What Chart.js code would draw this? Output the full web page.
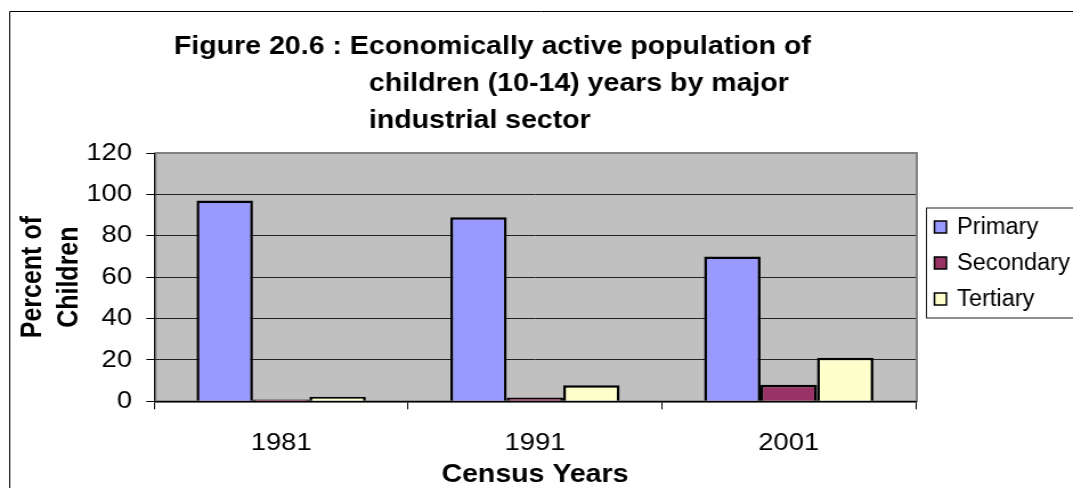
<!DOCTYPE html>
<html>
<head>
<meta charset="utf-8">
<script src="https://cdn.jsdelivr.net/npm/chart.js@4.4.1/dist/chart.umd.min.js"></script>
<style>
  html, body { margin: 0; padding: 0; background: #fff; overflow: hidden; }
  #wrap { position: absolute; left: 0; top: 0; width: 1073px; height: 488px; overflow: hidden; }
  #chart { position: absolute; left: 0; top: 0; transform-origin: 0 0; }
</style>
</head>
<body>
<div id="wrap"><canvas id="chart" width="941" height="488"></canvas></div>
<script>
// Census years and the share of working children (10-14) in each sector, in percent
const censusYears = ['1981', '1991', '2001'];
const primaryShare = [97, 89, 70];
const secondaryShare = [0.9, 1.8, 8];
const tertiaryShare = [2.2, 7.7, 21];
const seriesNames = ['Primary', 'Secondary', 'Tertiary'];
const seriesColors = ['#9999FF', '#993366', '#FFFFCC'];
const titleLines = [
  'Figure 20.6 : Economically active population of',
  'children (10-14) years by major',
  'industrial sector'
];
const yAxisTitle = ['Percent of', 'Children'];
const xAxisTitle = 'Census Years';

// the drawing is laid out on a narrower canvas and widened horizontally
const CANVAS_W = 941;
const STRETCH = 1073 / CANVAS_W;
document.getElementById('chart').style.transform = 'scaleX(' + STRETCH + ')';

const FONT = "'Liberation Sans', Arial, sans-serif";
Chart.defaults.color = '#000';
Chart.defaults.font.family = FONT;

const framePlugin = {
  id: 'frame',
  beforeDraw(chart) {
    const { ctx, chartArea: a } = chart;
    ctx.save();
    // outer frame (left and top edges)
    ctx.strokeStyle = '#000';
    ctx.lineWidth = 1;
    ctx.beginPath();
    ctx.moveTo(8.5, 488);
    ctx.lineTo(8.5, 11.5);
    ctx.lineTo(CANVAS_W, 11.5);
    ctx.stroke();
    // plot area fill and border
    ctx.fillStyle = '#C0C0C0';
    ctx.fillRect(a.left, a.top, a.right - a.left, a.bottom - a.top);
    ctx.strokeStyle = '#808080';
    ctx.lineWidth = 2;
    ctx.strokeRect(a.left + 1, a.top, a.right - a.left, a.bottom - a.top);
    ctx.restore();
  },
  afterDraw(chart) {
    const { ctx } = chart;
    ctx.save();
    // title
    ctx.fillStyle = '#000';
    ctx.font = 'bold 25px ' + FONT;
    ctx.textBaseline = 'alphabetic';
    ctx.textAlign = 'left';
    const tx = [152.6, 323.6, 323.6];
    const ty = [54, 91, 128];
    titleLines.forEach((t, i) => ctx.fillText(t, tx[i], ty[i]));

    // legend
    const lx = 812.5, ly = 208, lh = 110;
    ctx.fillStyle = '#fff';
    ctx.fillRect(lx, ly, CANVAS_W - lx + 10, lh);
    ctx.strokeStyle = '#222';
    ctx.lineWidth = 1;
    ctx.strokeRect(lx, ly, CANVAS_W - lx + 10, lh);
    ctx.textBaseline = 'middle';
    chart.data.datasets.forEach((ds, i) => {
      const cy = 227 + i * 36;
      ctx.fillStyle = ds.backgroundColor;
      ctx.fillRect(819.5, cy - 6, 10.5, 12);
      ctx.strokeStyle = '#000';
      ctx.lineWidth = 1.5;
      ctx.strokeRect(819.5, cy - 6, 10.5, 12);
      ctx.fillStyle = '#000';
      ctx.save();
      ctx.translate(839.3, cy + 1);
      ctx.scale(0.9, 1);
      ctx.font = '23px ' + FONT;
      ctx.fillText(ds.label, 0, 0);
      ctx.restore();
    });
    ctx.restore();
  }
};

new Chart(document.getElementById('chart'), {
  type: 'bar',
  data: {
    labels: censusYears,
    datasets: [
      { label: seriesNames[0], data: primaryShare, backgroundColor: seriesColors[0] },
      { label: seriesNames[1], data: secondaryShare, backgroundColor: seriesColors[1] },
      { label: seriesNames[2], data: tertiaryShare, backgroundColor: seriesColors[2] }
    ]
  },
  options: {
    responsive: false,
    animation: false,
    devicePixelRatio: 1,
    layout: { padding: { top: 153, left: 0, right: CANVAS_W - 803, bottom: 0 } },
    datasets: {
      bar: {
        borderColor: '#000',
        borderWidth: 2.5,
        categoryPercentage: 0.667,
        barPercentage: 1.0
      }
    },
    plugins: {
      legend: { display: false },
      title: { display: false },
      tooltip: { enabled: false }
    },
    scales: {
      x: {
        afterFit(scale) { scale.height = 86.7; },
        grid: {
          offset: true,
          drawOnChartArea: false,
          drawTicks: true,
          tickLength: 8,
          color: '#000',
          tickColor: '#000'
        },
        border: { display: true, color: '#000', width: 1.5 },
        ticks: { font: { size: 24, family: FONT }, padding: 20, color: '#000' },
        title: {
          display: true,
          text: xAxisTitle,
          font: { size: 25, weight: 'bold', family: FONT, lineHeight: 1.2 },
          padding: { top: 0, bottom: -2 },
          color: '#000'
        }
      },
      y: {
        min: 0,
        max: 120,
        afterFit(scale) { scale.width = 135.3; },
        grid: {
          color: (c) => (c.tick && (c.tick.value === 120 || c.tick.value === 0)) ? 'rgba(0,0,0,0)' : '#222',
          tickColor: '#000',
          tickLength: 7,
          lineWidth: 1
        },
        border: { display: true, color: '#000', width: 1 },
        ticks: { stepSize: 20, font: { size: 24, family: FONT }, padding: 12.5, color: '#000' },
        title: {
          display: true,
          text: yAxisTitle,
          font: { size: 25, weight: 'bold', family: FONT, lineHeight: 1.3 },
          padding: { top: 12.75, bottom: 0 },
          color: '#000'
        }
      }
    }
  },
  plugins: [framePlugin]
});
</script>
</body>
</html>
